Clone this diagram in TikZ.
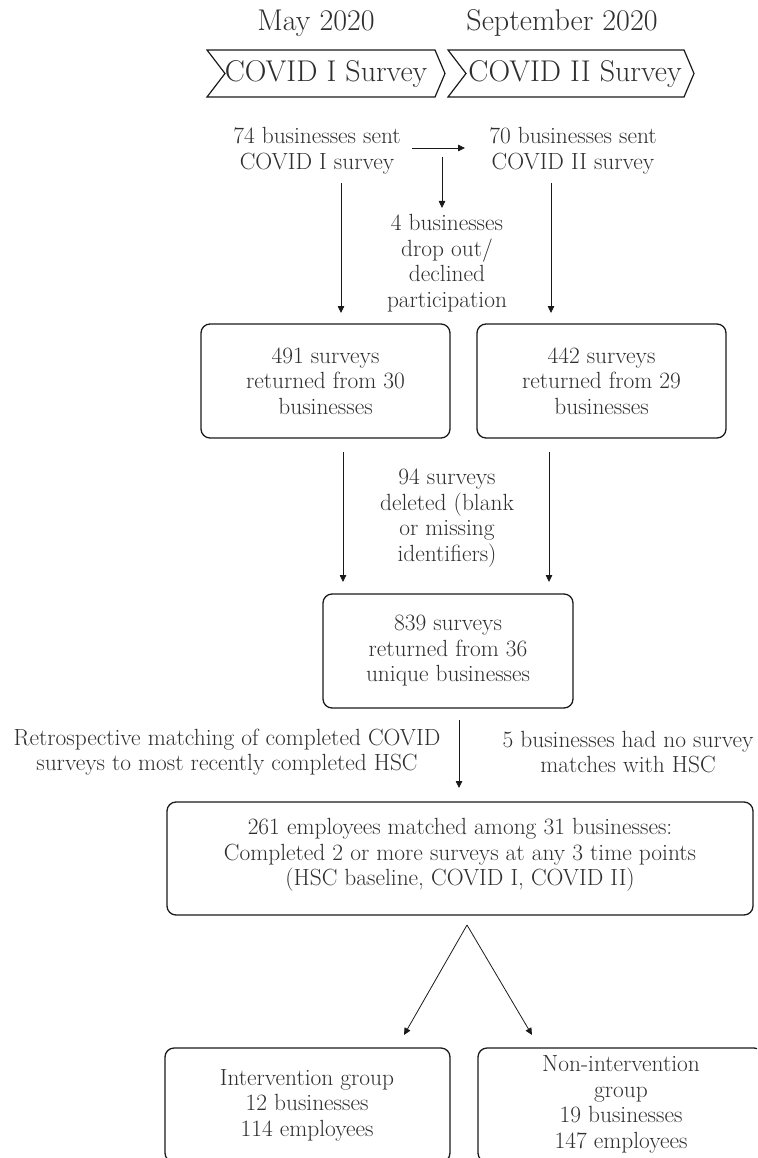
\documentclass[tikz,border=0pt]{standalone}
\usetikzlibrary{arrows.meta}
\definecolor{txtc}{HTML}{2E2E2E}
\definecolor{linec}{HTML}{1A1A1A}
\begin{document}
\begin{tikzpicture}[x=1pt,y=-1pt,
  txt/.style={align=center,font=\fontsize{23.4}{25.5}\selectfont,text=txtc,inner sep=0pt},
  big/.style={align=center,font=\fontsize{30}{32}\selectfont,text=txtc,inner sep=0pt},
  chev/.style={draw=linec,line width=1.2pt,line join=miter},
  box/.style={draw=linec,line width=1.3pt,rounded corners=9pt,inner sep=0pt},
  arr/.style={draw=linec,line width=0.8pt,-{Triangle[length=7pt,width=6.5pt]}}]
\useasboundingbox (0,0) rectangle (757,1158);
\clip (0,0) rectangle (757,1158);
% header
\node[big] (may) at (316,23) {May 2020};
\node[big] (sep) at (562,23) {September 2020};
\draw[chev] (207,50)--(435,50)--(445,73.5)--(435,97)--(207,97)--(225,73.5)--cycle;
\draw[chev] (448,50)--(684,50)--(694,73.5)--(684,97)--(448,97)--(466,73.5)--cycle;
\node[big] (c1) at (326,74) {COVID I Survey};
\node[big] (c2) at (575,74) {COVID II Survey};
% first row
\node[txt] (t74) at (317,151) {74 businesses sent\\COVID I survey};
\node[txt] (t70) at (573,151) {70 businesses sent\\COVID II survey};
\node[txt] (drop) at (447,263) {4 businesses\\drop out/\\declined\\participation};
\coordinate (h1) at (412,148);
\coordinate (h2) at (465,148);
\draw[arr] (h1) -- (h2);
\coordinate (d1) at (442,157);
\coordinate (d2) at (442,208);
\draw[arr] (d1) -- (d2);
% boxes 491 / 442
\node[box,minimum width=249pt,minimum height=114pt] (b491) at (325.5,381) {};
\node[txt] (b491t) at (325.5,381) {491 surveys\\returned from 30\\businesses};
\node[box,minimum width=249pt,minimum height=114pt] (b442) at (601.5,381) {};
\node[txt] (b442t) at (601.5,381) {442 surveys\\returned from 29\\businesses};
\coordinate (a1s) at (341,183);
\coordinate (a1e) at (341,313);
\coordinate (a2s) at (551,183);
\coordinate (a2e) at (551,313);
\draw[arr] (a1s) -- (a1e);
\draw[arr] (a2s) -- (a2e);
% 94 deleted
\node[txt] (t94) at (447,518) {94 surveys\\deleted (blank\\or missing\\identifiers)};
\coordinate (a3s) at (343,452);
\coordinate (a3e) at (343,582);
\coordinate (a4s) at (549,452);
\coordinate (a4e) at (549,582);
\draw[arr] (a3s) -- (a3e);
\draw[arr] (a4s) -- (a4e);
% 839
\node[box,minimum width=250pt,minimum height=114pt] (b839) at (448,651) {};
\node[txt] (b839t) at (448,651) {839 surveys\\returned from 36\\unique businesses};
\coordinate (a5s) at (459,720);
\coordinate (a5e) at (459,788);
\draw[arr] (a5s) -- (a5e);
\node[txt] (retro) at (227,752) {Retrospective matching of completed COVID\\surveys to most recently completed HSC};
\node[txt] (five) at (628,752) {5 businesses had no survey\\matches with HSC};
% 261
\node[box,minimum width=586pt,minimum height=113pt] (b261) at (460,858.5) {};
\node[txt] (b261t) at (460,855) {261 employees matched among 31 businesses:\\Completed 2 or more surveys at any 3 time points\\(HSC baseline, COVID I, COVID II)};
\coordinate (apex) at (467,925);
\coordinate (lend) at (404,1035);
\coordinate (rend) at (532,1035);
\draw[arr] (apex) -- (lend);
\draw[arr] (apex) -- (rend);
% bottom
\node[box,minimum width=285pt,minimum height=114pt] (bint) at (307.5,1105) {};
\node[txt] (bintt) at (307,1105) {Intervention group\\12 businesses\\114 employees};
\node[box,minimum width=285pt,minimum height=114pt] (bnon) at (620.5,1105) {};
\node[txt] (bnont) at (621,1104.5) {Non-intervention\\group\\19 businesses\\147 employees};
\end{tikzpicture}
\end{document}
